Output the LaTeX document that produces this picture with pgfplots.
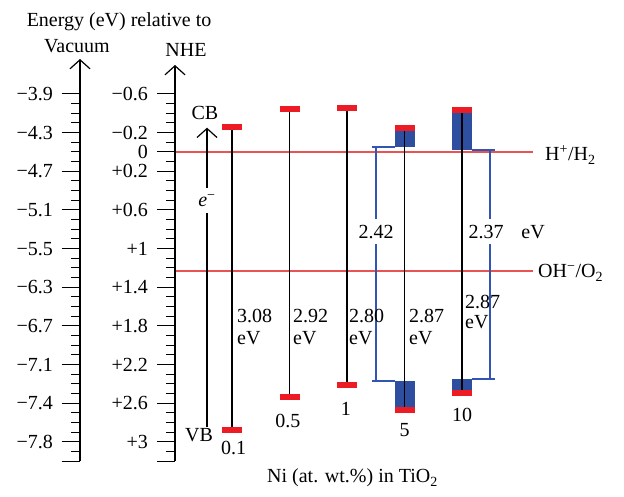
\documentclass[border=0pt]{standalone}
\usepackage{fontspec}
\setmainfont{Liberation Serif}
\usepackage{pgfplots}
\pgfplotsset{compat=1.18}
\usetikzlibrary{arrows.meta}
\definecolor{mred}{RGB}{237,28,36}
\definecolor{lred}{RGB}{232,84,84}
\definecolor{dblue}{RGB}{46,79,160}
\definecolor{lblue}{RGB}{50,85,180}
\pgfplotsset{
  scaleaxis/.style={
    scale only axis, anchor=south west, width=20bp,
    xmin=0, xmax=1, ymin=-3.2, clip=false,
    hide x axis, axis y line*=left,
    y axis line style={line width=1.3bp, -{Straight Barb[length=9bp,width=20bp,line width=1.2bp]}},
    ytick align=outside,
    major tick length=18bp, minor tick length=9bp,
    every tick/.style={black, line width=1bp},
    every minor tick/.style={black, line width=1bp},
    yticklabel style={inner xsep=0pt, xshift=-9bp},
  },
}
\begin{document}
\fontsize{20bp}{24bp}\selectfont
\begin{tikzpicture}
% main diagram
\begin{axis}[at={(0,0)}, anchor=south west, scale only axis, width=624bp, height=497bp,
  xmin=-4.035, xmax=6.817, ymin=-3.569, ymax=1.572, hide axis, clip=false]
% scale ticks (vacuum axis at x=-2.643, NHE axis at x=-0.991)
\addplot[black, line width=1bp, unbounded coords=jump] table[row sep=\\] {
x y\\
-2.957 0.6\\ -2.643 0.6\\ nan nan\\
-2.957 0.2\\ -2.643 0.2\\ nan nan\\
-2.957 -0.2\\ -2.643 -0.2\\ nan nan\\
-2.957 -0.6\\ -2.643 -0.6\\ nan nan\\
-2.957 -1\\ -2.643 -1\\ nan nan\\
-2.957 -1.4\\ -2.643 -1.4\\ nan nan\\
-2.957 -1.8\\ -2.643 -1.8\\ nan nan\\
-2.957 -2.2\\ -2.643 -2.2\\ nan nan\\
-2.957 -2.6\\ -2.643 -2.6\\ nan nan\\
-2.957 -3\\ -2.643 -3\\ nan nan\\
-2.957 -3.2\\ -2.643 -3.2\\
};
\addplot[black, line width=1bp, unbounded coords=jump] table[row sep=\\] {
x y\\
-2.800 -3.1\\ -2.643 -3.1\\ nan nan\\
-2.800 -2.9\\ -2.643 -2.9\\ nan nan\\
-2.800 -2.8\\ -2.643 -2.8\\ nan nan\\
-2.800 -2.7\\ -2.643 -2.7\\ nan nan\\
-2.800 -2.5\\ -2.643 -2.5\\ nan nan\\
-2.800 -2.4\\ -2.643 -2.4\\ nan nan\\
-2.800 -2.3\\ -2.643 -2.3\\ nan nan\\
-2.800 -2.1\\ -2.643 -2.1\\ nan nan\\
-2.800 -2.0\\ -2.643 -2.0\\ nan nan\\
-2.800 -1.9\\ -2.643 -1.9\\ nan nan\\
-2.800 -1.7\\ -2.643 -1.7\\ nan nan\\
-2.800 -1.6\\ -2.643 -1.6\\ nan nan\\
-2.800 -1.5\\ -2.643 -1.5\\ nan nan\\
-2.800 -1.3\\ -2.643 -1.3\\ nan nan\\
-2.800 -1.2\\ -2.643 -1.2\\ nan nan\\
-2.800 -1.1\\ -2.643 -1.1\\ nan nan\\
-2.800 -0.9\\ -2.643 -0.9\\ nan nan\\
-2.800 -0.8\\ -2.643 -0.8\\ nan nan\\
-2.800 -0.7\\ -2.643 -0.7\\ nan nan\\
-2.800 -0.5\\ -2.643 -0.5\\ nan nan\\
-2.800 -0.4\\ -2.643 -0.4\\ nan nan\\
-2.800 -0.3\\ -2.643 -0.3\\ nan nan\\
-2.800 -0.1\\ -2.643 -0.1\\ nan nan\\
-2.800 0\\ -2.643 0\\ nan nan\\
-2.800 0.1\\ -2.643 0.1\\ nan nan\\
-2.800 0.3\\ -2.643 0.3\\ nan nan\\
-2.800 0.4\\ -2.643 0.4\\ nan nan\\
-2.800 0.5\\ -2.643 0.5\\
};
\addplot[black, line width=1bp, unbounded coords=jump] table[row sep=\\] {
x y\\
-1.304 0.6\\ -0.991 0.6\\ nan nan\\
-1.304 0.2\\ -0.991 0.2\\ nan nan\\
-1.304 0\\ -0.991 0\\ nan nan\\
-1.304 -0.2\\ -0.991 -0.2\\ nan nan\\
-1.304 -0.6\\ -0.991 -0.6\\ nan nan\\
-1.304 -1\\ -0.991 -1\\ nan nan\\
-1.304 -1.4\\ -0.991 -1.4\\ nan nan\\
-1.304 -1.8\\ -0.991 -1.8\\ nan nan\\
-1.304 -2.2\\ -0.991 -2.2\\ nan nan\\
-1.304 -2.6\\ -0.991 -2.6\\ nan nan\\
-1.304 -3\\ -0.991 -3\\ nan nan\\
-1.304 -3.2\\ -0.991 -3.2\\
};
\addplot[black, line width=1bp, unbounded coords=jump] table[row sep=\\] {
x y\\
-1.148 -3.1\\ -0.991 -3.1\\ nan nan\\
-1.148 -2.9\\ -0.991 -2.9\\ nan nan\\
-1.148 -2.8\\ -0.991 -2.8\\ nan nan\\
-1.148 -2.7\\ -0.991 -2.7\\ nan nan\\
-1.148 -2.5\\ -0.991 -2.5\\ nan nan\\
-1.148 -2.4\\ -0.991 -2.4\\ nan nan\\
-1.148 -2.3\\ -0.991 -2.3\\ nan nan\\
-1.148 -2.1\\ -0.991 -2.1\\ nan nan\\
-1.148 -2.0\\ -0.991 -2.0\\ nan nan\\
-1.148 -1.9\\ -0.991 -1.9\\ nan nan\\
-1.148 -1.7\\ -0.991 -1.7\\ nan nan\\
-1.148 -1.6\\ -0.991 -1.6\\ nan nan\\
-1.148 -1.5\\ -0.991 -1.5\\ nan nan\\
-1.148 -1.3\\ -0.991 -1.3\\ nan nan\\
-1.148 -1.2\\ -0.991 -1.2\\ nan nan\\
-1.148 -1.1\\ -0.991 -1.1\\ nan nan\\
-1.148 -0.9\\ -0.991 -0.9\\ nan nan\\
-1.148 -0.8\\ -0.991 -0.8\\ nan nan\\
-1.148 -0.7\\ -0.991 -0.7\\ nan nan\\
-1.148 -0.5\\ -0.991 -0.5\\ nan nan\\
-1.148 -0.4\\ -0.991 -0.4\\ nan nan\\
-1.148 -0.3\\ -0.991 -0.3\\ nan nan\\
-1.148 -0.1\\ -0.991 -0.1\\ nan nan\\
-1.148 0.1\\ -0.991 0.1\\ nan nan\\
-1.148 0.3\\ -0.991 0.3\\ nan nan\\
-1.148 0.4\\ -0.991 0.4\\ nan nan\\
-1.148 0.5\\ -0.991 0.5\\
};
% redox potentials
\addplot[lred, line width=1.5bp] coordinates {(-0.991,0) (5.235,0)};
\addplot[lred, line width=1.5bp] coordinates {(-0.991,-1.231) (5.235,-1.231)};
% blue blocks
\addplot[fill=dblue, draw=none] coordinates {(2.826,0.228) (3.174,0.228) (3.174,0.052) (2.826,0.052)} -- cycle;
\addplot[fill=dblue, draw=none] coordinates {(2.826,-2.369) (3.174,-2.369) (3.174,-2.648) (2.826,-2.648)} -- cycle;
\addplot[fill=dblue, draw=none] coordinates {(3.826,0.403) (4.174,0.403) (4.174,0.021) (3.826,0.021)} -- cycle;
\addplot[fill=dblue, draw=none] coordinates {(3.826,-2.348) (4.174,-2.348) (4.174,-2.472) (3.826,-2.472)} -- cycle;
% brackets
\addplot[lblue, line width=1.2bp] coordinates {(2.435,0.052) (2.826,0.052)};
\addplot[lblue, line width=1.2bp] coordinates {(2.504,0.052) (2.504,-2.369)};
\addplot[lblue, line width=1.2bp] coordinates {(2.435,-2.369) (2.826,-2.369)};
\addplot[lblue, line width=1.2bp] coordinates {(4.174,0.021) (4.574,0.021)};
\addplot[lblue, line width=1.2bp] coordinates {(4.487,0.021) (4.487,-2.348)};
\addplot[lblue, line width=1.2bp] coordinates {(4.174,-2.348) (4.574,-2.348)};
% band lines
\addplot[black, line width=1.3bp] coordinates {(0,0.26) (0,-2.876)};
\addplot[black, line width=1.3bp] coordinates {(1,0.44) (1,-2.534)};
\addplot[black, line width=1.3bp] coordinates {(2,0.452) (2,-2.407)};
\addplot[black, line width=1.3bp] coordinates {(3,0.253) (3,-2.669)};
\addplot[black, line width=1.3bp] coordinates {(4,0.429) (4,-2.498)};
% CB / VB marks
\addplot[mred, line width=6bp] coordinates {(-0.174,0.26) (0.174,0.26)};
\addplot[mred, line width=6bp] coordinates {(0.826,0.44) (1.174,0.44)};
\addplot[mred, line width=6bp] coordinates {(1.826,0.452) (2.174,0.452)};
\addplot[mred, line width=6bp] coordinates {(2.826,0.253) (3.174,0.253)};
\addplot[mred, line width=6bp] coordinates {(3.826,0.429) (4.174,0.429)};
\addplot[mred, line width=6bp] coordinates {(-0.174,-2.876) (0.174,-2.876)};
\addplot[mred, line width=6bp] coordinates {(0.826,-2.534) (1.174,-2.534)};
\addplot[mred, line width=6bp] coordinates {(1.826,-2.407) (2.174,-2.407)};
\addplot[mred, line width=6bp] coordinates {(2.826,-2.669) (3.174,-2.669)};
\addplot[mred, line width=6bp] coordinates {(3.826,-2.498) (4.174,-2.498)};
% electron arrow
\addplot[black, line width=1.2bp, -{Straight Barb[length=9bp,width=20bp,line width=1.2bp]}] coordinates {(-0.435,-2.845) (-0.435,0.251)};
% texts
\node[anchor=base, inner sep=0pt] at (axis cs:-1.965,1.293) {Energy (eV) relative to};
\node[anchor=base, inner sep=0pt] at (axis cs:-2.696,1.034) {Vacuum};
\node[anchor=base, inner sep=0pt] at (axis cs:-0.800,0.983) {NHE};
\node[anchor=base, inner sep=0pt] at (axis cs:-0.470,0.331) {CB};
\node[anchor=base, inner sep=0pt] at (axis cs:-0.574,-3.0) {VB};
\node[anchor=base, fill=white, inner xsep=2bp, inner ysep=6bp] at (axis cs:-0.435,-0.569) {\textit{e}\textsuperscript{−}};
\node[anchor=base, fill=white, inner xsep=2bp, inner ysep=6bp] at (axis cs:2.504,-0.890) {2.42};
\node[anchor=base, fill=white, inner xsep=2bp, inner ysep=6bp] at (axis cs:4.417,-0.890) {2.37};
\node[anchor=base, inner sep=0pt] at (axis cs:5.235,-0.890) {eV};
\node[anchor=base west, inner sep=0pt] at (axis cs:5.443,-0.093) {H\textsuperscript{+}/H\textsubscript{2}};
\node[anchor=base west, inner sep=0pt] at (axis cs:5.322,-1.303) {OH\textsuperscript{−}/O\textsubscript{2}};
% band gaps
\node[anchor=base west, inner sep=0pt] at (axis cs:0.087,-1.769) {3.08};
\node[anchor=base west, inner sep=0pt] at (axis cs:0.087,-1.996) {eV};
\node[anchor=base west, inner sep=0pt] at (axis cs:1.061,-1.769) {2.92};
\node[anchor=base west, inner sep=0pt] at (axis cs:1.061,-1.996) {eV};
\node[anchor=base west, inner sep=0pt] at (axis cs:2.035,-1.769) {2.80};
\node[anchor=base west, inner sep=0pt] at (axis cs:2.035,-1.996) {eV};
\node[anchor=base west, inner sep=0pt] at (axis cs:3.078,-1.769) {2.87};
\node[anchor=base west, inner sep=0pt] at (axis cs:3.078,-1.996) {eV};
\node[anchor=base west, inner sep=0pt] at (axis cs:4.052,-1.624) {2.87};
\node[anchor=base west, inner sep=0pt] at (axis cs:4.052,-1.821) {eV};
% categories
\node[anchor=base, inner sep=0pt] at (axis cs:0.03,-3.134) {0.1};
\node[anchor=base, inner sep=0pt] at (axis cs:0.97,-2.855) {0.5};
\node[anchor=base, inner sep=0pt] at (axis cs:1.98,-2.721) {1};
\node[anchor=base, inner sep=0pt] at (axis cs:3,-2.948) {5};
\node[anchor=base, inner sep=0pt] at (axis cs:4,-2.783) {10};
\node[anchor=base, inner sep=0pt] at (axis cs:2.096,-3.424) {Ni (at. wt.\%) in TiO\textsubscript{2}};
\end{axis}
% Vacuum scale
\begin{axis}[scaleaxis, at={(80bp,35.7bp)}, height=402.3bp, ymax=0.962,
  ytick={0.6,0.2,-0.2,-0.6,-1,-1.4,-1.8,-2.2,-2.6,-3,-3.2},
  yticklabels={−3.9,−4.3,−4.7,−5.1,−5.5,−6.3,−6.7,−7.1,−7.4,−7.8,{}},
  minor ytick={-3.1,-2.9,-2.8,-2.7,-2.5,-2.4,-2.3,-2.1,-2.0,-1.9,-1.7,-1.6,-1.5,-1.3,-1.2,-1.1,-0.9,-0.8,-0.7,-0.5,-0.4,-0.3,-0.1,0,0.1,0.3,0.4,0.5}]
\end{axis}
% NHE scale
\begin{axis}[scaleaxis, at={(175bp,35.7bp)}, height=396.3bp, ymax=0.9,
  ytick={0.6,0.2,0,-0.2,-0.6,-1,-1.4,-1.8,-2.2,-2.6,-3,-3.2},
  yticklabels={−0.6,−0.2,0,+0.2,+0.6,+1,+1.4,+1.8,+2.2,+2.6,+3,{}},
  minor ytick={-3.1,-2.9,-2.8,-2.7,-2.5,-2.4,-2.3,-2.1,-2.0,-1.9,-1.7,-1.6,-1.5,-1.3,-1.2,-1.1,-0.9,-0.8,-0.7,-0.5,-0.4,-0.3,-0.1,0.1,0.3,0.4,0.5}]
\end{axis}
\path (0,0) (624bp,497bp);
\end{tikzpicture}
\end{document}
